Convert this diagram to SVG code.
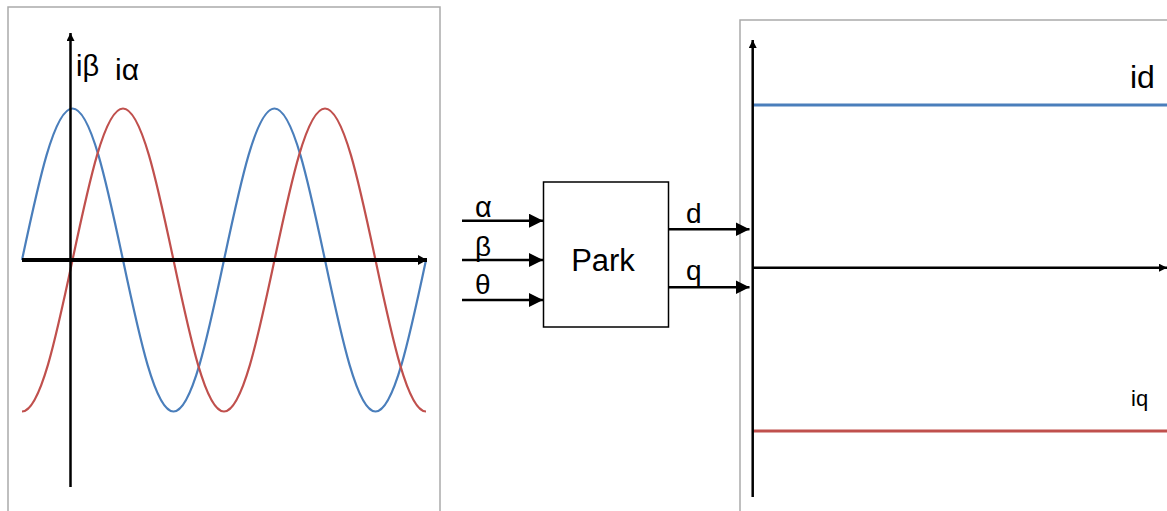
<svg xmlns="http://www.w3.org/2000/svg" width="1167" height="511" viewBox="0 0 1167 511">
<defs>
<style>
.frame{fill:none;stroke:#aaaaaa;stroke-width:1.5}
.axis{stroke:#000;fill:none}
.blue{fill:none;stroke:#4a7ebb;stroke-width:2.2}
.red{fill:none;stroke:#c0504d;stroke-width:2.2}
.lbl{font-family:"Liberation Sans",Arial,sans-serif;fill:#000}
.wire{stroke:#000;stroke-width:2.5;fill:none}
</style>
<marker id="arr" markerUnits="userSpaceOnUse" markerWidth="16" markerHeight="16" refX="14" refY="7" orient="auto"><path d="M0,0 L14,7 L0,14 z" fill="#000"/></marker>
<marker id="ax" markerUnits="userSpaceOnUse" markerWidth="12" markerHeight="12" refX="9" refY="5" orient="auto"><path d="M0,0 L9,5 L0,10 z" fill="#000"/></marker>
<marker id="axs" markerUnits="userSpaceOnUse" markerWidth="12" markerHeight="12" refX="8" refY="4" orient="auto"><path d="M0,0 L8,4 L0,8 z" fill="#000"/></marker>
</defs>
<rect width="1167" height="511" fill="#fff"/>

<g id="chart-alpha-beta">
<path class="frame" d="M8,511 V7 H440 V511"/>
<path class="blue" d="M22,260 C38.47,182.39 54.22,108.5 72.5,108.5 C90.78,108.5 106.53,182.39 123,260 C139.47,337.61 155.22,411.5 173.5,411.5 C191.78,411.5 207.53,337.61 224,260 C240.47,182.39 256.22,108.5 274.5,108.5 C292.78,108.5 308.53,182.39 325,260 C341.47,337.61 357.22,411.5 375.5,411.5 C393.78,411.5 409.53,337.61 426,260"/>
<path class="red" d="M22,411.5 C40.28,411.5 56.03,337.61 72.5,260 C88.97,182.39 104.72,108.5 123,108.5 C141.28,108.5 157.03,182.39 173.5,260 C189.97,337.61 205.72,411.5 224,411.5 C242.28,411.5 258.03,337.61 274.5,260 C290.97,182.39 306.72,108.5 325,108.5 C343.28,108.5 359.03,182.39 375.5,260 C391.97,337.61 407.72,411.5 426,411.5"/>
<line class="axis" x1="70.5" y1="487" x2="70.5" y2="33" stroke-width="2.5" marker-end="url(#axs)"/>
<line class="axis" x1="22" y1="260" x2="427" y2="260" stroke-width="4" marker-end="url(#ax)"/>
<text class="lbl" x="76" y="76" font-size="29">iβ</text>
<text class="lbl" x="115" y="80" font-size="30">iα</text>
</g>

<g id="park">
<rect x="543.5" y="182" width="125" height="145" fill="#fff" stroke="#000" stroke-width="1.5"/>
<text class="lbl" x="603" y="271" font-size="31" text-anchor="middle">Park</text>
</g>

<g id="chart-dq">
<path class="frame" d="M740,511 V20 H1167"/>
<line x1="753" y1="105" x2="1167" y2="105" stroke="#4a7ebb" stroke-width="3"/>
<line x1="753" y1="431" x2="1167" y2="431" stroke="#c0504d" stroke-width="3"/>
<line class="axis" x1="752.7" y1="497" x2="752.7" y2="40" stroke-width="2.5" marker-end="url(#axs)"/>
<line class="axis" x1="753" y1="267.7" x2="1167" y2="267.7" stroke-width="2.5" marker-end="url(#axs)"/>
<text class="lbl" x="1130" y="88" font-size="32">id</text>
<text class="lbl" x="1131" y="406" font-size="22">iq</text>
</g>

<g id="connectors">
<line class="wire" x1="462" y1="220.7" x2="543" y2="220.7" marker-end="url(#arr)"/>
<line class="wire" x1="462" y1="260" x2="543" y2="260" marker-end="url(#arr)"/>
<line class="wire" x1="462" y1="300" x2="543" y2="300" marker-end="url(#arr)"/>
<line class="wire" x1="668" y1="229.3" x2="749.5" y2="229.3" marker-end="url(#arr)"/>
<line class="wire" x1="668" y1="287.3" x2="749.5" y2="287.3" marker-end="url(#arr)"/>
<text class="lbl" x="475" y="217" font-size="29">α</text>
<text class="lbl" x="475" y="256" font-size="28">β</text>
<text class="lbl" x="475" y="294" font-size="28">θ</text>
<text class="lbl" x="686" y="223" font-size="28">d</text>
<text class="lbl" x="686" y="280" font-size="28">q</text>
</g>
</svg>
